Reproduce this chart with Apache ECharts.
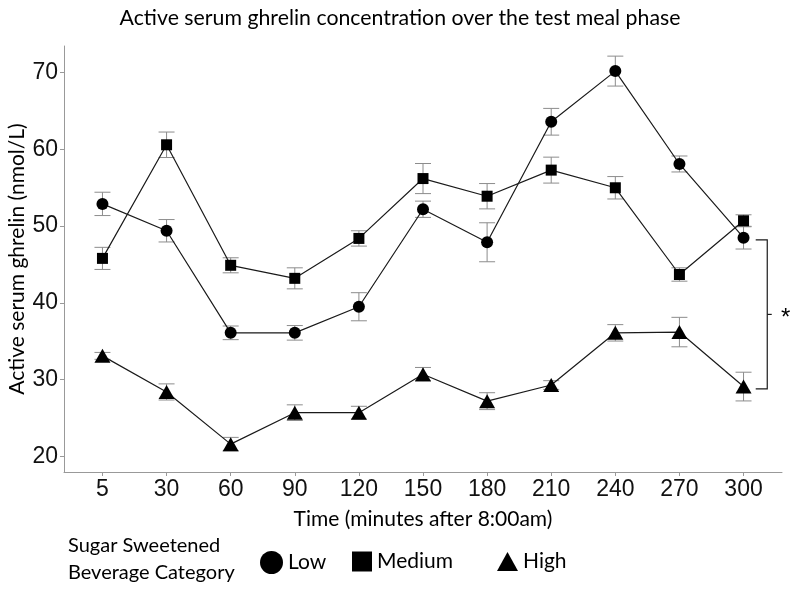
<!DOCTYPE html>
<html>
<head>
<meta charset="utf-8">
<script src="https://cdn.jsdelivr.net/npm/echarts@6/dist/echarts.min.js"></script>
<style>
  html, body { margin: 0; padding: 0; background: #fff; }
  #chart { width: 800px; height: 589px; }
</style>
</head>
<body>
<div id="chart"></div>
<script>
// time points (minutes after 8:00am)
const times = ['5', '30', '60', '90', '120', '150', '180', '210', '240', '270', '300'];
const yTicks = [20, 30, 40, 50, 60, 70];

// mean active ghrelin per beverage category
const lowMean = [52.9, 49.4, 36.1, 36.1, 39.5, 52.2, 47.9, 63.6, 70.2, 58.1, 48.5];
const medMean = [45.8, 60.6, 44.9, 43.2, 48.4, 56.2, 53.9, 57.3, 55.0, 43.7, 50.7];
const highMean = [33.1, 28.4, 21.6, 25.7, 25.7, 30.7, 27.2, 29.3, 36.1, 36.2, 29.1];

// standard errors (half the error bar)
const lowSe = [1.52, 1.46, 0.89, 0.95, 1.83, 1.06, 2.54, 1.74, 1.95, 1.04, 1.48];
const medSe = [1.44, 1.66, 0.98, 1.37, 1.0, 1.96, 1.65, 1.69, 1.46, 0.87, 0.78];
const highSe = [0.45, 1.05, 0.88, 1.02, 0.83, 0.89, 1.1, 0.57, 1.07, 1.92, 1.87];

const textFont = 'Lato, "Open Sans", sans-serif';
const numFont = '"Liberation Sans", Arial, sans-serif';
const lineColor = '#1a1a1a';

const chart = echarts.init(document.getElementById('chart'));

function pts(mean) {
  return mean.map((v, i) => [i, v]);
}
function bars(mean, se) {
  return mean.map((v, i) => [i, v - se[i], v + se[i]]);
}

function errorBar(params, api) {
  const x = api.value(0);
  const lo = api.coord([x, api.value(1)]);
  const hi = api.coord([x, api.value(2)]);
  const hw = 8;
  const style = { stroke: '#8c8c8c', lineWidth: 1 };
  return {
    type: 'group',
    children: [
      { type: 'line', shape: { x1: lo[0], y1: lo[1], x2: hi[0], y2: hi[1] }, style },
      { type: 'line', shape: { x1: lo[0] - hw, y1: lo[1], x2: lo[0] + hw, y2: lo[1] }, style },
      { type: 'line', shape: { x1: hi[0] - hw, y1: hi[1], x2: hi[0] + hw, y2: hi[1] }, style }
    ]
  };
}

function lineSeries(name, mean, symbol, size) {
  return {
    name: name,
    type: 'line',
    data: pts(mean),
    symbol: symbol,
    symbolSize: size,
    showAllSymbol: true,
    z: 3,
    lineStyle: { color: lineColor, width: 1.2 },
    itemStyle: { color: '#000', borderWidth: 0 },
    emphasis: { disabled: true }
  };
}

function barSeries(name, mean, se) {
  return {
    name: name + ' SE',
    type: 'custom',
    data: bars(mean, se),
    renderItem: errorBar,
    z: 2,
    silent: true
  };
}

// significance bracket between Low and High at the last time point
const last = times.length - 1;
function bracket(params, api) {
  const top = api.coord([last + 0.19, lowMean[last] - 0.3]);
  const bot = api.coord([last + 0.19, highMean[last] - 0.3]);
  const vx = api.coord([last + 0.37, 0])[0];
  const mx = api.coord([last + 0.44, 0])[0];
  const my = (top[1] + bot[1]) / 2;
  const style = { stroke: lineColor, lineWidth: 1.2, fill: null };
  return {
    type: 'group',
    children: [
      { type: 'polyline', shape: { points: [[top[0], top[1]], [vx, top[1]], [vx, bot[1]], [bot[0], bot[1]]] }, style },
      { type: 'line', shape: { x1: vx, y1: my, x2: mx, y2: my }, style },
      { type: 'text', style: { x: mx + 14, y: my + 4, text: '*', font: '24px ' + numFont, fill: '#000', align: 'center', verticalAlign: 'middle' } }
    ]
  };
}

function legendFor(name, icon, left, w, h) {
  return {
    data: [{ name: name, icon: icon }],
    left: left,
    top: 546,
    itemWidth: w,
    itemHeight: h,
    itemGap: 0,
    selectedMode: false,
    textStyle: { fontFamily: textFont, fontSize: 21, color: '#000' }
  };
}

chart.setOption({
  backgroundColor: '#fff',
  animation: false,
  title: {
    text: 'Active serum ghrelin concentration over the test meal phase',
    left: 'center',
    top: 3,
    textStyle: { fontFamily: textFont, fontSize: 21.3, fontWeight: 'normal', color: '#000' }
  },
  legend: [
    legendFor('Low', 'circle', 255, 23, 23),
    legendFor('Medium', 'rect', 347, 20, 20),
    legendFor('High', 'triangle', 492, 21, 19)
  ],
  graphic: [
    { type: 'text', left: 68, top: 532, style: { text: 'Sugar Sweetened\nBeverage Category', font: '20px ' + textFont, fill: '#000', lineHeight: 27 } }
  ],
  grid: { left: 64, right: 18, top: 46, bottom: 117, outerBoundsMode: 'none', containLabel: false },
  xAxis: {
    type: 'value',
    min: -0.6,
    max: 10.6,
    name: 'Time (minutes after 8:00am)',
    nameLocation: 'middle',
    nameGap: 37,
    nameMoveOverlap: false,
    nameTextStyle: { fontFamily: textFont, fontSize: 21, color: '#000' },
    axisLine: { show: true, onZero: false, lineStyle: { color: '#999', width: 1 } },
    axisTick: { show: true, length: 4, lineStyle: { color: '#999' }, customValues: times.map((t, i) => i) },
    axisLabel: {
      customValues: times.map((t, i) => i),
      formatter: v => times[Math.round(v)],
      fontFamily: numFont,
      fontSize: 23,
      color: '#111',
      margin: 6
    },
    splitLine: { show: false }
  },
  yAxis: {
    type: 'value',
    min: 17.97,
    max: 73.47,
    name: 'Active serum ghrelin (nmol/L)',
    nameLocation: 'middle',
    nameGap: 36,
    nameMoveOverlap: false,
    nameTextStyle: { fontFamily: textFont, fontSize: 21, color: '#000' },
    axisLine: { show: true, onZero: false, lineStyle: { color: '#999', width: 1 } },
    axisTick: { show: true, length: 4, lineStyle: { color: '#999' }, customValues: yTicks },
    axisLabel: {
      customValues: yTicks,
      fontFamily: numFont,
      fontSize: 23,
      color: '#111',
      margin: 6
    },
    splitLine: { show: false }
  },
  series: [
    barSeries('Low', lowMean, lowSe),
    barSeries('Medium', medMean, medSe),
    barSeries('High', highMean, highSe),
    lineSeries('Low', lowMean, 'circle', 12),
    lineSeries('Medium', medMean, 'rect', 11),
    lineSeries('High', highMean, 'triangle', [16, 14]),
    {
      type: 'custom',
      name: 'bracket',
      data: [[last, highMean[last]]],
      renderItem: bracket,
      clip: false,
      silent: true,
      z: 4
    }
  ]
});
</script>
</body>
</html>
